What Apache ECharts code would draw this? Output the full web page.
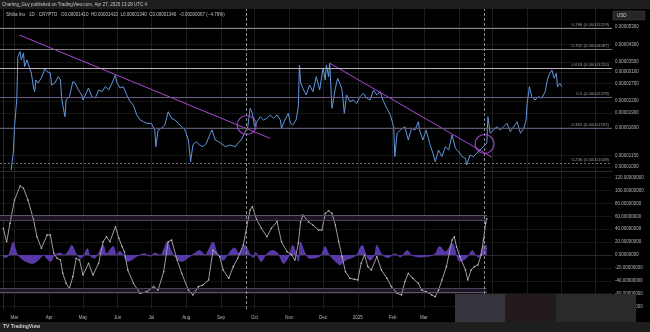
<!DOCTYPE html>
<html><head><meta charset="utf-8">
<script src="https://cdn.jsdelivr.net/npm/echarts@6/dist/echarts.min.js"></script>
<style>html,body{margin:0;padding:0;background:#000}#c{width:650px;height:332px}</style>
</head><body><div id="c"></div>
<script>
// x values are days since 2024-02-20
const monthDays = [10,41,71,102,132,163,194,224,255,285,316,347,375,406,436,467,497,528];
const monthLabels = ['Mar','Apr','May','Jun','Jul','Aug','Sep','Oct','Nov','Dec','2025','Feb','Mar','Apr','May','Jun','Jul','Aug'];

const priceDays = [7,9,10,12,13,14,15,16,18,19,21,22,24,25,27,28,29,31,34,37,39,42,43,46,49,51,52,53,55,56,59,62,64,67,70,71,74,76,79,82,85,88,91,94,97,100,101,104,107,110,113,116,119,122,125,128,132,135,136,138,141,144,147,150,153,156,159,162,165,167,169,172,175,178,181,184,186,189,192,193,198,202,207,209,212,215,218,220,222,224,226,229,232,235,238,241,244,247,248,251,254,256,258,261,263,264,265,267,270,273,276,279,282,285,287,288,290,291,293,294,296,298,300,302,304,306,309,312,315,318,321,324,327,330,333,336,339,342,345,348,349,351,354,358,361,364,367,370,371,374,377,380,383,385,388,391,394,397,400,403,406,409,412,413,416,419,422,425,428,431];
const priceValues = [0.00000965,0.00001200,0.00001617,0.00002224,0.00003728,0.00003805,0.00003958,0.00003584,0.00003897,0.00003309,0.00003584,0.00003458,0.00003181,0.00003070,0.00002566,0.00002456,0.00002823,0.00002724,0.00002892,0.00003220,0.00003118,0.00003070,0.00002660,0.00002724,0.00002937,0.00002823,0.00002278,0.00002095,0.00001822,0.00002224,0.00002313,0.00002767,0.00002724,0.00002506,0.00002361,0.00002224,0.00002418,0.00002566,0.00002313,0.00002278,0.00002506,0.00002456,0.00002607,0.00002506,0.00002724,0.00002997,0.00002767,0.00002566,0.00002607,0.00002361,0.00002179,0.00002095,0.00001860,0.00001752,0.00001717,0.00001684,0.00001684,0.00001555,0.00001274,0.00001555,0.00001587,0.00001650,0.00001934,0.00001788,0.00001752,0.00001684,0.00001617,0.00001555,0.00001380,0.00001065,0.00001300,0.00001352,0.00001300,0.00001274,0.00001327,0.00001465,0.00001555,0.00001380,0.00001352,0.00001327,0.00001274,0.00001300,0.00001274,0.00001327,0.00001380,0.00001495,0.00001617,0.00002014,0.00001898,0.00001617,0.00001717,0.00001822,0.00001752,0.00001788,0.00001860,0.00001788,0.00001860,0.00001752,0.00001587,0.00001752,0.00001898,0.00001684,0.00001650,0.00001752,0.00002053,0.00003377,0.00002757,0.00002557,0.00002361,0.00002660,0.00002456,0.00002937,0.00002506,0.00003246,0.00002823,0.00003377,0.00002937,0.00003446,0.00002014,0.00001974,0.00002557,0.00002881,0.00002714,0.00002506,0.00001898,0.00002361,0.00002179,0.00002224,0.00002138,0.00002313,0.00002409,0.00002270,0.00002224,0.00002506,0.00002361,0.00002456,0.00002179,0.00002014,0.00001860,0.00001617,0.00001131,0.00001495,0.00001555,0.00001617,0.00001380,0.00001587,0.00001555,0.00001717,0.00001555,0.00001380,0.00001555,0.00001327,0.00001178,0.00001065,0.00001225,0.00001131,0.00001274,0.00001225,0.00001465,0.00001250,0.00001200,0.00001131,0.00001109,0.00001024,0.00001154,0.00001131,0.00001178,0.00001225,0.00001274,0.00001331];

const projDays = [431,432,434,437,440,443,446,449,452,455,458,461,464,466,467,469,471,474,477,480,483,485,487,489,491,493,494,496,498];
const projValues = [0.00001331,0.00001822,0.00001495,0.00001555,0.00001617,0.00001555,0.00001617,0.00001684,0.00001524,0.00001617,0.00001717,0.00001495,0.00001587,0.00001752,0.00002138,0.00002607,0.00002313,0.00002224,0.00002313,0.00002270,0.00002456,0.00002823,0.00003058,0.00003181,0.00002881,0.00003058,0.00002607,0.00002714,0.00002607];

const oscDays = [0,3,6,10,15,18,22,27,30,34,39,42,45,48,51,53,56,59,62,65,68,71,76,80,85,89,92,95,100,103,106,108,111,116,122,128,134,138,143,147,150,155,159,165,169,174,178,183,187,193,196,201,205,209,214,217,220,222,226,230,235,239,244,248,253,257,260,263,265,267,272,276,281,284,287,290,293,296,299,302,305,309,313,316,319,322,325,328,333,337,342,346,351,355,358,361,365,370,373,377,382,385,388,391,395,400,402,404,407,412,414,417,420,423,426,428,430,431];
const oscValues = [41.4,20.6,49.1,85.3,107.0,103.4,85.3,54.3,28.4,10.4,31.0,31.0,2.6,-5.1,-7.8,-28.4,-43.9,-51.6,-33.6,-5.1,-7.8,-31.0,-12.9,-31.0,-12.9,20.6,28.4,20.6,43.9,25.9,12.9,5.1,-23.3,-43.9,-59.4,-56.9,-49.1,-54.3,-25.9,20.6,23.3,-7.8,-28.4,-54.3,-62.0,-49.1,-46.5,-38.8,7.8,-2.6,-23.3,-36.1,-18.1,-5.1,15.5,43.9,69.8,74.9,54.3,41.4,28.4,41.4,51.6,20.6,5.1,0,-7.8,18.1,51.2,62.0,51.6,46.5,38.8,38.8,64.7,68.7,64.7,46.5,20.6,-2.6,-25.9,-36.1,-37.7,-38.8,-12.9,0,-18.1,-23.3,-2.6,-23.3,-36.1,-49.1,-59.4,-62.0,-41.4,-28.4,-36.1,-43.9,-54.3,-56.9,-62.0,-64.7,-54.3,-38.8,-18.1,23.3,28.4,12.9,-2.6,-23.3,-38.8,-23.3,-18.1,-15.5,0,23.3,49.1,55.8];

const histDays = [0,2,5,9,11,13,18,26,33,36,39,42,46,51,54,58,61,65,69,72,75,77,81,84,89,92,98,101,104,107,111,116,119,126,131,135,140,143,146,150,153,159,165,170,175,180,183,187,190,193,196,200,206,210,215,220,223,225,230,234,240,245,250,255,258,261,263,265,269,273,281,284,287,290,296,300,305,311,315,320,323,327,331,333,337,343,349,354,360,364,371,379,385,389,394,400,404,407,412,415,418,421,424,428,431];
const histValues = [-3,-4,0,20,8,0,-8,-13,-5,0,-6,-10,0,3,0,6,15,2,-5,0,10,0,-5,0,15,2,13,0,6,0,-10,-6,-2,2,-2,3,0,8,20,5,-3,-10,-4,2,7,0,8,20,6,-3,-8,0,11,3,15,2,-4,4,-10,0,7,2,-13,0,15,2,-10,20,3,-5,-3,2,13,2,-10,-15,-8,-4,0,15,2,-8,0,15,2,-4,2,-3,7,0,-3,-2,2,13,5,18,0,-10,-6,0,7,0,-4,15,14];

const priceTicks = [0.00001000,0.00001150,0.00001600,0.00001900,0.00002200,0.00002700,0.00003100,0.00003500,0.00004300,0.00005300];
const oscTicks = [-80,-60,-40,-20,0,20,40,60,80,100,120];

const fibLevels = [0.236,0.382,0.5,0.618,0.702,0.786];
const fibPrices = [0.00001049,0.00001592,0.00002278,0.00003220,0.00004087,0.00005219];

const trend1Days = [14.3,237.7], trend1Prices = [0.0000483,0.00001408];
const trend2Days = [291.2,435.3], trend2Prices = [0.00003446,0.00001127];
const circleDays = [217,429], circlePrices = [0.0000165,0.00001316];
const markerDays = [217,428.5];
const oscBandTop = [54,62], oscBandBottom = [-58,-52], oscBandEndDay = 431;

// ---- styles ----
const FONT = '"Liberation Sans", Arial, sans-serif';
const fibColors = ['#6e6e6e','#5c5a70','#6a5a8e','#bdb3bd','#7c7c7c','#8a8a8a'];
const PURPLE = '#a947d6';
const L = p => Math.log10(p);
const zipL = (xs, ys) => xs.map((x,i)=>[x, L(ys[i])]);
const zip = (xs, ys) => xs.map((x,i)=>[x, ys[i]]);
const lastPrice = priceValues[priceValues.length-1];
const XMIN = -2.92, XMAX = 542.6;

const chart = echarts.init(document.getElementById('c'), null, {width:650, height:332});

const xBase = (gi, showLabel) => ({
  type:'value', gridIndex:gi, min:XMIN, max:XMAX,
  axisLine:{show:true, lineStyle:{color:'#2a2a2a'}},
  axisTick:{show:false, customValues:monthDays},
  axisLabel:{show:showLabel, customValues:monthDays, fontSize:4.5, fontFamily:FONT, color:'#b2b5be', margin:6,
    formatter:v=>{const i=monthDays.indexOf(v);return i>=0?monthLabels[i]:'';}},
  splitLine:{show:true, lineStyle:{color:'#1d1d1d', width:1}}
});

const option = {
  backgroundColor:'#000000',
  animation:false,
  grid:[
    {left:0, top:9, width:612, height:162},
    {left:0, top:172, width:612, height:137}
  ],
  xAxis:[xBase(0,false), xBase(1,true)],
  yAxis:[
    {type:'value', gridIndex:0, position:'right', min:-5.02073, max:-4.18135,
     axisLine:{show:true, lineStyle:{color:'#2a2a2a'}},
     axisTick:{show:false, customValues:priceTicks.map(L)},
     axisLabel:{customValues:priceTicks.map(L), formatter:v=>Math.pow(10,v).toFixed(8), fontSize:4.5, fontFamily:FONT, color:'#b2b5be', margin:3},
     splitLine:{show:true, lineStyle:{color:'#171717'}}},
    {type:'value', gridIndex:1, position:'right', min:-83.72, max:128.68,
     axisLine:{show:true, lineStyle:{color:'#2a2a2a'}},
     axisTick:{show:false, customValues:oscTicks},
     axisLabel:{customValues:oscTicks, formatter:v=>v.toFixed(8), fontSize:4.5, fontFamily:FONT, color:'#b2b5be', margin:3},
     splitLine:{show:true, lineStyle:{color:'#141414'}}}
  ],
  series:[
    {type:'line', name:'fib', xAxisIndex:0, yAxisIndex:0, data:[], clip:false, silent:true,
     markLine:{symbol:'none', silent:true, animation:false,
       data: fibLevels.map((lv,i)=>({
         yAxis:L(fibPrices[i]),
         lineStyle:{color:fibColors[i], width:1, type:i===0?[2,2]:'solid'},
         label:{show:true, position:'insideEndTop', formatter:lv+' ('+fibPrices[i].toFixed(8)+')', color:'#9a9aa3', fontSize:4.3, fontFamily:FONT, distance:[3,1.5]}
       })).concat(markerDays.map(d=>({xAxis:d, lineStyle:{color:'#8c8c8c', type:[3,2], width:1}, label:{show:false}})))
       .concat([
         {yAxis:L(lastPrice), lineStyle:{opacity:0}, label:{show:true, position:'end', formatter:lastPrice.toFixed(8)+'\n10:31:56', backgroundColor:'#9b44d8', color:'#ffffff', fontSize:4.5, lineHeight:5.5, fontFamily:FONT, padding:[1.5,2], distance:1}},
         {yAxis:L(lastPrice), lineStyle:{opacity:0}, label:{show:true, position:'insideEnd', formatter:'SHIBUSD', backgroundColor:'#9b44d8', color:'#ffffff', fontSize:4.2, fontFamily:FONT, padding:[1,2], distance:0}}
       ])
     }},
    {type:'line', name:'price', xAxisIndex:0, yAxisIndex:0, data:zipL(priceDays, priceValues), showSymbol:false,
     lineStyle:{color:'#6196dc', width:1}, itemStyle:{color:'#6196dc'}, z:3},
    {type:'line', name:'projection', xAxisIndex:0, yAxisIndex:0, data:zipL(projDays, projValues), showSymbol:false,
     lineStyle:{color:'#6196dc', width:1}, z:3},
    {type:'line', name:'trend1', xAxisIndex:0, yAxisIndex:0, data:zipL(trend1Days, trend1Prices), showSymbol:false,
     lineStyle:{color:PURPLE, width:1}, z:4},
    {type:'line', name:'trend2', xAxisIndex:0, yAxisIndex:0, data:zipL(trend2Days, trend2Prices), showSymbol:false,
     lineStyle:{color:PURPLE, width:1}, z:4},
    {type:'scatter', name:'circles', xAxisIndex:0, yAxisIndex:0, data:zipL(circleDays, circlePrices), symbolSize:19,
     itemStyle:{color:'rgba(0,0,0,0)', borderColor:'#b452e6', borderWidth:1.2}, z:5},

    {type:'line', name:'oscHelper', xAxisIndex:1, yAxisIndex:1, data:[], clip:false, silent:true,
     markArea:{silent:true, itemStyle:{color:'#1e1427'},
       data:[[{xAxis:XMIN, yAxis:oscBandTop[0]},{xAxis:oscBandEndDay, yAxis:oscBandTop[1]}],
             [{xAxis:XMIN, yAxis:oscBandBottom[0]},{xAxis:oscBandEndDay, yAxis:oscBandBottom[1]}]]},
     markLine:{symbol:'none', silent:true, label:{show:false},
       data:[
         [{coord:[XMIN,oscBandTop[1]], lineStyle:{color:'#5f5569', width:1, type:'solid'}},{coord:[oscBandEndDay,oscBandTop[1]]}],
         [{coord:[XMIN,oscBandTop[0]], lineStyle:{color:'#4a4353', width:1, type:'solid'}},{coord:[oscBandEndDay,oscBandTop[0]]}],
         [{coord:[XMIN,oscBandBottom[1]], lineStyle:{color:'#4a4353', width:1, type:'solid'}},{coord:[oscBandEndDay,oscBandBottom[1]]}],
         [{coord:[XMIN,oscBandBottom[0]], lineStyle:{color:'#5f5569', width:1, type:'solid'}},{coord:[oscBandEndDay,oscBandBottom[0]]}]
       ].concat(markerDays.map(d=>({xAxis:d, lineStyle:{color:'#8c8c8c', type:[3,2], width:1}})))
     }},
    {type:'line', name:'hist', xAxisIndex:1, yAxisIndex:1, data:zip(histDays, histValues), showSymbol:false, smooth:0.35,
     lineStyle:{color:'#6e48c4', width:0.6}, areaStyle:{color:'#5838a8', opacity:1}, z:3},
    {type:'line', name:'osc', xAxisIndex:1, yAxisIndex:1, data:zip(oscDays, oscValues), showSymbol:true, symbol:'circle', symbolSize:1.6,
     lineStyle:{color:'#9c9c9c', width:1}, itemStyle:{color:'#c4c4c4'}, z:4}
  ],
  graphic:[
    {type:'rect', shape:{x:0,y:0,width:650,height:9}, style:{fill:'#1e1e1e'}, z:100},
    {type:'rect', shape:{x:0,y:322,width:650,height:10}, style:{fill:'#1e1e1e'}, z:100},
    {type:'text', x:2, y:4.5, style:{text:'Charting_Guy published on TradingView.com, Apr 27, 2025 13:28 UTC 4', fill:'#c8c8c8', font:'4.5px '+FONT, verticalAlign:'middle'}, z:101},
    {type:'text', x:6, y:14.5, style:{text:'Shiba Inu · 1D · CRYPTO   O0.00001410  H0.00001410  L0.00001340  C0.00001340  −0.00000067 (−4.76%)', fill:'#c3c3c3', font:'4.5px '+FONT, verticalAlign:'middle'}, z:101},
    {type:'rect', shape:{x:613,y:11,width:32,height:9}, style:{fill:'#262626', stroke:'#3c3c3c', lineWidth:0.6}, z:101},
    {type:'text', x:617, y:15.5, style:{text:'USD', fill:'#d0d0d0', font:'4.5px '+FONT, verticalAlign:'middle'}, z:102},
    {type:'rect', shape:{x:455,y:294,width:50,height:28}, style:{fill:'#35343c'}, z:100},
    {type:'rect', shape:{x:505,y:294,width:51,height:28}, style:{fill:'#221a1f'}, z:100},
    {type:'rect', shape:{x:556,y:294,width:80,height:28}, style:{fill:'#2a2a2a'}, z:100},
    {type:'text', x:3, y:327, style:{text:'TV TradingView', fill:'#d0d0d0', font:'bold 5px '+FONT, verticalAlign:'middle'}, z:101}
  ]
};
chart.setOption(option);
</script></body></html>
